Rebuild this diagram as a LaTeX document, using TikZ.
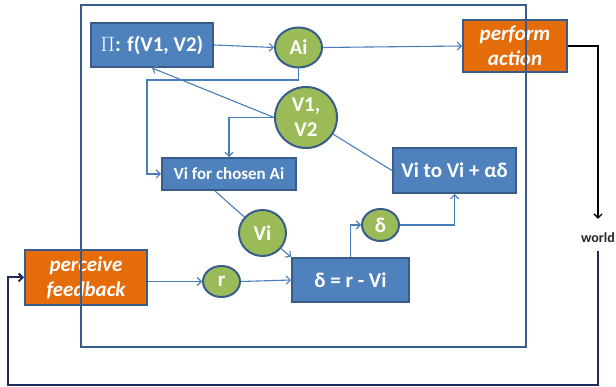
\documentclass[tikz,border=0pt]{standalone}
\usepackage{fontspec}
\setmainfont{Carlito}
\usetikzlibrary{arrows.meta,shapes.geometric}

\definecolor{boxblue}{HTML}{4F81BD}
\definecolor{edgeblue}{HTML}{385D8A}
\definecolor{lineblue}{HTML}{4A7EBB}
\definecolor{leafgreen}{HTML}{9BBB59}
\definecolor{actorange}{HTML}{E46C0A}
\definecolor{loopnavy}{HTML}{1F2A5C}

\begin{document}
\begin{tikzpicture}[x=1pt, y=-1pt,
  stage/.style={draw=edgeblue, line width=2pt, fill=boxblue, text=white,
    inner sep=0pt, align=center, font=\fontsize{21}{25}\selectfont\bfseries},
  doit/.style={stage, fill=actorange, font=\fontsize{21}{25}\selectfont\bfseries\itshape},
  value/.style={draw=edgeblue, line width=2pt, fill=leafgreen, text=white,
    ellipse, inner sep=0pt, align=center, font=\fontsize{21}{25}\selectfont\bfseries},
  link/.style={draw=lineblue, line width=1.1pt, -{Straight Barb[length=4pt,width=8pt]}},
  plain/.style={draw=lineblue, line width=1.1pt}]
  \useasboundingbox (0,0) rectangle (616,387);

  % boxes
  \node[stage, minimum width=122pt, minimum height=44pt] (policy) at (152,45) {$\Pi$: f(V1, V2)};
  \node[stage, minimum width=134pt, minimum height=32pt, font=\fontsize{17}{20}\selectfont\bfseries] (chosen) at (229,174) {Vi for chosen Ai};
  \node[stage, minimum width=123pt, minimum height=45pt] (update) at (454.5,170.5) {Vi to Vi + αδ};
  \node[stage, minimum width=117pt, minimum height=44pt] (error) at (350.5,280) {δ = r - Vi};
  \node[doit, minimum width=104pt, minimum height=52pt] (act) at (515,46) {perform\\action};
  \node[doit, minimum width=122pt, minimum height=55pt] (feel) at (86,277.5) {perceive\\feedback};

  % values
  \node[value, minimum width=47pt, minimum height=40pt] (ai) at (298.5,47.5) {Ai};
  \node[value, minimum width=62pt, minimum height=61pt] (v12) at (306,117.5) {V1,\\V2};
  \node[value, minimum width=47pt, minimum height=46pt] (vi) at (262.5,233) {Vi};
  \node[value, minimum width=37pt, minimum height=31pt] (r) at (221.5,281.5) {r};
  \node[value, minimum width=37pt, minimum height=32pt] (delta) at (380.5,225) {δ};
  \node[inner sep=0pt, text=black!85, font=\fontsize{14}{16}\selectfont\bfseries] (world) at (598,238) {world};

  % agent frame
  \draw[edgeblue, line width=2.5pt] (81,5) rectangle (526,347);

  \coordinate (aibend) at (147,80);
  \coordinate (lowleft) at (8,385);

  \draw[link] (policy.east) -- (ai.west);
  \draw[link] (ai.east) -- (act.west);
  \draw[link] (ai.south) |- (aibend) |- (chosen.west);
  \draw[link] (v12.west) -- (policy.south);
  \draw[link] (v12.west) -| (chosen.north);
  \draw[plain] (v12) -- (update.west);
  \draw[plain] ([xshift=-14pt]chosen.south) -- (vi);
  \draw[link] (vi) -- (error.north west);
  \draw[link] (feel.east |- r.west) -- (r.west);
  \draw[link] (r.east) -- (error.west);
  \draw[link] (error.north) |- (delta.west);
  \draw[link] (delta.east) -| (update.south);
  \draw[black, line width=1.3pt, -{Straight Barb[length=4pt,width=8pt]}, shorten >=14pt]
    (act.east) -| (world.north);
  \draw[loopnavy, line width=2pt, -{Straight Barb[length=4pt,width=8pt]}, shorten <=8pt]
    (world.south) |- (lowleft) |- (feel.west);
\end{tikzpicture}
\end{document}
